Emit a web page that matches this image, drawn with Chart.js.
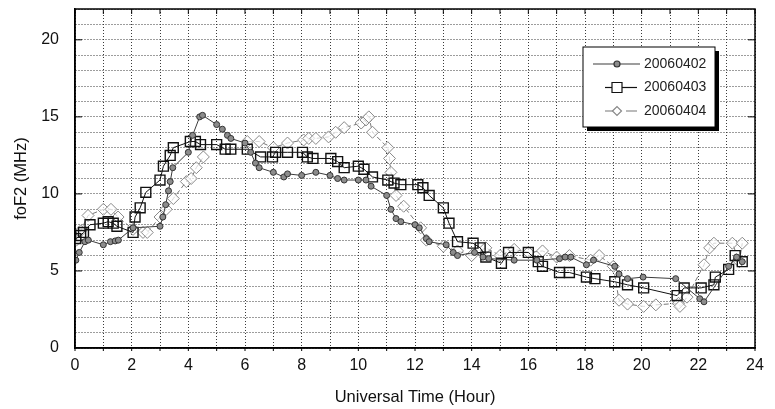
<!DOCTYPE html>
<html>
<head>
<meta charset="utf-8">
<title>foF2 20060402-20060404</title>
<script src="https://cdn.jsdelivr.net/npm/chart.js@4/dist/chart.umd.min.js"></script>
<style>
  body { margin: 0; background: #fff; }
</style>
</head>
<body>
<canvas id="fof2Chart" width="775" height="409"></canvas>
<script>
// foF2 values (hours UT / MHz)
var labels = ['20060402', '20060403', '20060404'];

var hours0402 = [0.03, 0.15, 0.35, 0.47, 1.0, 1.25, 1.42, 1.53, 2.05, 3.0, 3.1, 3.2, 3.3, 3.36, 3.45, 4.0, 4.15, 4.4, 4.5,
    5.0, 5.2, 5.38, 5.5, 6.0, 6.2, 6.37, 6.5, 7.0, 7.37, 7.5, 8.0, 8.5, 9.0, 9.27, 9.5, 10.0, 10.27, 10.45, 11.0, 11.15,
    11.33, 11.5, 12.0, 12.15, 12.4, 12.5, 13.1, 13.35, 13.5, 14.1, 14.4, 14.6, 15.5, 16.3, 17.1, 17.3, 17.5, 18.05, 18.3,
    19.05, 19.2, 19.5, 20.05, 21.2, 22.05, 22.2, 23.07, 23.35, 23.55];
var foF20402 = [5.7, 6.2, 6.9, 7.0, 6.7, 6.9, 6.95, 7.0, 7.8, 7.9, 8.5, 9.3, 10.2, 10.8, 11.7, 12.7, 13.8, 15.0, 15.1,
    14.5, 14.2, 13.8, 13.6, 13.3, 12.7, 12.0, 11.7, 11.4, 11.1, 11.3, 11.2, 11.4, 11.2, 11.0, 10.9, 10.9, 10.9, 10.5, 9.9, 9.0,
    8.4, 8.2, 8.0, 7.8, 7.1, 6.9, 6.7, 6.2, 6.0, 6.2, 5.9, 5.8, 5.7, 5.7, 5.8, 5.9, 5.9, 5.4, 5.7,
    5.3, 4.8, 4.5, 4.6, 4.5, 3.2, 3.0, 5.3, 5.9, 5.6];

var hours0403 = [0.03, 0.2, 0.3, 0.53, 1.0, 1.17, 1.35, 1.48, 2.05, 2.12, 2.3, 2.5, 3.0, 3.12, 3.36, 3.47, 4.07, 4.25, 4.43,
    5.0, 5.3, 5.5, 6.08, 6.55, 6.97, 7.08, 7.5, 8.03, 8.2, 8.4, 9.03, 9.27, 9.5, 10.0, 10.2, 10.5, 11.04, 11.26, 11.5, 12.1,
    12.28, 12.5, 13.0, 13.2, 13.5, 14.05, 14.3, 14.5, 15.05, 15.3, 16.0, 16.35, 16.5, 17.1, 17.45, 18.05, 18.35, 19.05, 19.5,
    20.07, 21.25, 21.5, 22.1, 22.55, 22.6, 23.07, 23.3, 23.55];
var foF20403 = [7.1, 7.3, 7.5, 8.0, 8.1, 8.2, 8.1, 7.9, 7.5, 8.5, 9.1, 10.1, 10.9, 11.8, 12.5, 13.0, 13.4, 13.4, 13.2,
    13.2, 12.9, 12.9, 12.9, 12.4, 12.4, 12.7, 12.7, 12.7, 12.4, 12.3, 12.3, 12.1, 11.7, 11.8, 11.6, 11.1, 10.9, 10.7, 10.6, 10.6,
    10.4, 9.9, 9.1, 8.1, 6.9, 6.8, 6.5, 5.9, 5.5, 6.2, 6.2, 5.6, 5.3, 4.9, 4.9, 4.6, 4.5, 4.3, 4.1,
    3.9, 3.4, 3.9, 3.9, 4.1, 4.6, 5.1, 6.0, 5.6];

// null = gap in the record (line is broken there)
var hours0404 = [0.05, 0.2, 0.46, 1.0, 1.27, 1.52, 2.05, 2.4, 2.55, 3.0, 3.22, 3.47, 3.93, 4.1, 4.28, 4.53, 5.3,
    6.08, 6.5, 7.0, 7.5, 8.07, 8.25, 8.5, 8.95, 9.2, 9.5, 10.1, 10.27, 10.37, 10.5, 11.04, 11.1, 11.15, 11.33, 11.6,
    12.2, 12.4, 13.0, 13.5, 14.0, 14.5, 15.0, 15.5, 16.0, 16.5, 17.0, 17.45, 18.2, 18.5, 19.0, 19.2, 19.5, 20.07,
    20.5, 21.3, 21.35, 21.6, 22.2, 22.4, 22.55, 23.2, 23.45, 23.55];
var foF20404 = [7.0, 7.6, 8.6, 9.0, 9.0, 8.5, 7.7, 7.5, 7.5, 8.5, 9.0, 9.7, 10.8, 11.0, 11.7, 12.4, null,
    13.4, 13.4, 13.0, 13.3, 13.5, 13.6, 13.6, 13.7, 14.0, 14.3, 14.6, 14.8, 15.0, 14.0, 13.0, 12.3, 11.4, 9.9, 9.2,
    7.8, 7.0, 6.6, 6.3, 6.0, 6.5, 6.0, 6.4, 6.2, 6.3, 5.9, 6.0, 5.7, 6.0, 5.3, 3.1, 2.85, 2.7,
    2.8, 2.9, 2.7, 3.3, 5.4, 6.5, 6.8, 6.8, 5.6, 6.8];

function toPoints(xs, ys) {
    return xs.map(function (x, i) { return { x: x, y: ys[i] }; });
}

var FONT = "'Liberation Sans', Arial, sans-serif";

// frame round the plot + small inward ticks
var framePlugin = {
    id: 'frame',
    afterDraw: function (chart) {
        var ctx = chart.ctx, a = chart.chartArea;
        var xs = chart.scales.x, ys = chart.scales.y;
        ctx.save();
        ctx.strokeStyle = '#000';
        ctx.lineWidth = 1.5;
        ctx.strokeRect(a.left, a.top, a.right - a.left, a.bottom - a.top);
        ctx.lineWidth = 1;
        ctx.beginPath();
        for (var h = 0; h <= 24; h++) {
            var px = xs.getPixelForValue(h);
            ctx.moveTo(px, a.top); ctx.lineTo(px, a.top + 5);
            ctx.moveTo(px, a.bottom); ctx.lineTo(px, a.bottom + 3);
        }
        for (var v = 5; v <= 20; v += 5) {
            var py = ys.getPixelForValue(v);
            ctx.moveTo(a.left, py); ctx.lineTo(a.left + 7, py);
            ctx.moveTo(a.right, py); ctx.lineTo(a.right - 7, py);
        }
        ctx.stroke();
        ctx.restore();
    }
};

// boxed legend with drop shadow, inside the plot
var legendPlugin = {
    id: 'boxLegend',
    afterDraw: function (chart) {
        var ctx = chart.ctx, a = chart.chartArea;
        var bx = a.left + 508, by = a.top + 38, bw = 132, bh = 80;
        ctx.save();
        ctx.fillStyle = '#000';
        ctx.fillRect(bx + 4, by + 4, bw, bh);
        ctx.fillStyle = '#fff';
        ctx.fillRect(bx, by, bw, bh);
        ctx.strokeStyle = '#000';
        ctx.lineWidth = 1;
        ctx.strokeRect(bx, by, bw, bh);

        chart.data.datasets.forEach(function (ds, i) {
            var y = by + 17 + i * 23.5;
            var mx = bx + 34;
            ctx.strokeStyle = ds.borderColor;
            ctx.lineWidth = 1.2;
            ctx.setLineDash([]);
            ctx.beginPath();
            if (i === 0) {
                ctx.moveTo(bx + 10, y); ctx.lineTo(bx + 57, y);
            } else if (i === 1) {
                ctx.moveTo(bx + 22, y); ctx.lineTo(bx + 54, y);
            } else {
                ctx.moveTo(bx + 22, y); ctx.lineTo(bx + 30, y);
                ctx.moveTo(bx + 43, y); ctx.lineTo(bx + 54, y);
            }
            ctx.stroke();

            ctx.beginPath();
            if (ds.pointStyle === 'circle') {
                ctx.arc(mx, y, 3, 0, Math.PI * 2);
            } else if (ds.pointStyle === 'rect') {
                ctx.rect(mx - 5, y - 5, 10, 10);
            } else {
                ctx.moveTo(mx - 4.5, y); ctx.lineTo(mx, y - 4.5);
                ctx.lineTo(mx + 4.5, y); ctx.lineTo(mx, y + 4.5); ctx.closePath();
            }
            ctx.fillStyle = ds.pointStyle === 'circle' ? ds.pointBackgroundColor : '#fff';
            ctx.fill();
            ctx.strokeStyle = ds.pointBorderColor;
            ctx.lineWidth = 1.2;
            ctx.stroke();

            ctx.fillStyle = '#222';
            ctx.font = '14px ' + FONT;
            ctx.textBaseline = 'middle';
            ctx.fillText(ds.label, bx + 61, y);
        });
        ctx.restore();
    }
};

var ctx = document.getElementById('fof2Chart').getContext('2d');

var fof2Chart = new Chart(ctx, {
    type: 'scatter',
    data: {
        datasets: [{
            label: labels[0],
            data: toPoints(hours0402, foF20402),
            showLine: true,
            borderColor: '#3c3c3c',
            borderWidth: 1,
            pointStyle: 'circle',
            pointRadius: 3,
            pointBackgroundColor: '#8c8c8c',
            pointBorderColor: '#333',
            pointBorderWidth: 1
        }, {
            label: labels[1],
            data: toPoints(hours0403, foF20403),
            showLine: true,
            borderColor: '#111',
            borderWidth: 1,
            pointStyle: 'rect',
            pointRadius: 7,
            pointBackgroundColor: 'rgba(255,255,255,0)',
            pointBorderColor: '#111',
            pointBorderWidth: 1.4
        }, {
            label: labels[2],
            data: toPoints(hours0404, foF20404),
            showLine: true,
            spanGaps: false,
            borderColor: '#777',
            borderWidth: 1,
            borderDash: [5, 3],
            pointStyle: 'rectRot',
            pointRadius: 6,
            pointBackgroundColor: 'rgba(255,255,255,0.7)',
            pointBorderColor: '#888',
            pointBorderWidth: 1
        }]
    },
    options: {
        responsive: false,
        animation: false,
        layout: { padding: { left: 0, right: 20, top: 9, bottom: 0 } },
        plugins: {
            legend: { display: false },
            tooltip: { enabled: false }
        },
        scales: {
            x: {
                type: 'linear',
                min: 0,
                max: 24,
                afterFit: function (scale) { scale.height = 61; },
                ticks: {
                    stepSize: 1,
                    autoSkip: false,
                    maxRotation: 0,
                    padding: 8,
                    color: '#111',
                    font: { family: FONT, size: 16 },
                    callback: function (v) { return v % 2 === 0 ? v : ''; }
                },
                grid: { color: '#3a3a3a', lineWidth: 1, drawTicks: false },
                border: { display: true, color: '#000', width: 1.5, dash: [1, 2] },
                title: {
                    display: true,
                    text: 'Universal Time (Hour)',
                    color: '#111',
                    font: { family: FONT, size: 16.5 },
                    padding: { top: 0, bottom: 2 }
                }
            },
            y: {
                min: 0,
                max: 22,
                afterFit: function (scale) {
                    scale.width = 75;
                    scale.paddingTop = 0;
                    scale.paddingBottom = 0;
                },
                ticks: {
                    stepSize: 1,
                    autoSkip: false,
                    padding: 16,
                    color: '#111',
                    font: { family: FONT, size: 16 },
                    callback: function (v) { return v % 5 === 0 ? v : ''; }
                },
                grid: { color: '#3a3a3a', lineWidth: 1, drawTicks: false },
                border: { display: true, color: '#000', width: 1.5, dash: [1, 2] },
                title: {
                    display: true,
                    text: 'foF2 (MHz)',
                    color: '#111',
                    font: { family: FONT, size: 16.5 },
                    padding: { top: 12, bottom: 0 }
                }
            }
        }
    },
    plugins: [framePlugin, legendPlugin]
});
</script>
</body>
</html>
